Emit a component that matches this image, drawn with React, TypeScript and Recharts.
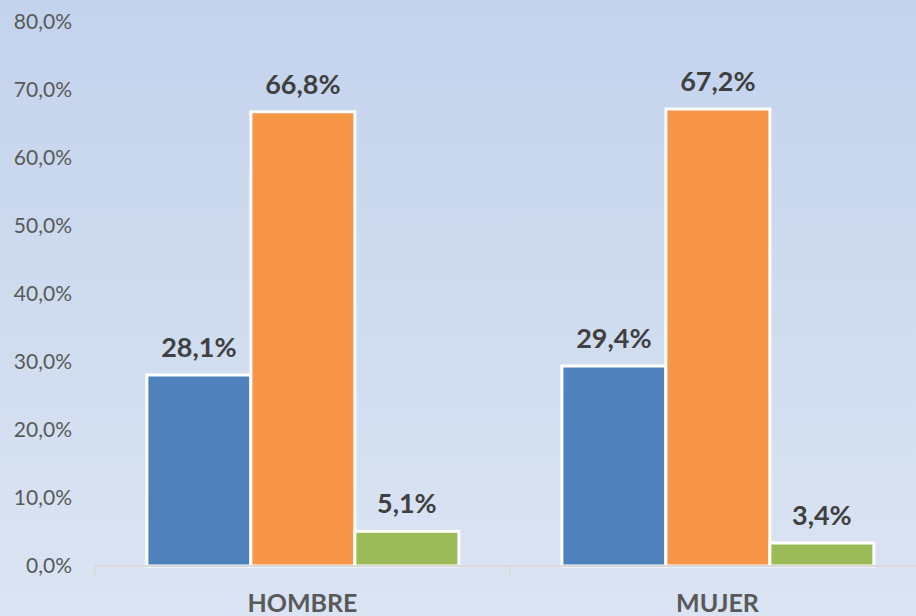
import React from "react";
import { BarChart, Bar, XAxis, YAxis, LabelList } from "recharts";

const categories = ["HOMBRE", "MUJER"];
const serie1 = [28.1, 29.4];
const serie2 = [66.8, 67.2];
const serie3 = [5.1, 3.4];
const yTicks = [0, 10, 20, 30, 40, 50, 60, 70, 80];

const data = categories.map((c, i) => ({ name: c, s1: serie1[i], s2: serie2[i], s3: serie3[i] }));

const FONT = "Lato, 'Open Sans', sans-serif";
const fmt = (v: number) => v.toFixed(1).replace(".", ",") + "%";
const labelStyle = { fontFamily: FONT, fontWeight: 700, fontSize: 27, fill: "#404040" };

const XTick = (props: any) => {
  const { x, y, payload } = props;
  const off = payload && payload.offset ? payload.offset : 0;
  return (
    <g>
      <line x1={x - off} y1={y - 8} x2={x - off} y2={y + 1} stroke="#d9d9d9" strokeWidth={1.5} />
      <line x1={x + off} y1={y - 8} x2={x + off} y2={y + 1} stroke="#d9d9d9" strokeWidth={1.5} />
      <text x={x} y={y + 38} textAnchor="middle" fontFamily={FONT} fontWeight={700} fontSize={25} fill="#595959">
        {payload.value}
      </text>
    </g>
  );
};

export default function App() {
  return (
    <div
      style={{
        position: "fixed",
        left: 0,
        top: 0,
        width: 916,
        height: 616,
        overflow: "hidden",
        background: "linear-gradient(180deg, #c3d3ed 0%, #cfdcef 50%, #dbe4f3 100%)",
      }}
    >
      <BarChart
        width={930}
        height={616}
        data={data}
        margin={{ top: 22, right: 5, bottom: 0, left: 0 }}
        barCategoryGap="12.5%"
        barGap={0}
      >
        <YAxis
          width={95}
          domain={[0, 80]}
          ticks={yTicks}
          tickFormatter={fmt}
          axisLine={false}
          tickLine={false}
          tickSize={0}
          tickMargin={23}
          tick={{ fontFamily: FONT, fontSize: 21, fill: "#595959" }}
        />
        <XAxis
          dataKey="name"
          height={50}
          axisLine={{ stroke: "#d9d9d9", strokeWidth: 2 }}
          tickLine={false}
          tick={<XTick />}
        />
        <Bar dataKey="s1" fill="#4f81bd" stroke="#ffffff" strokeWidth={3} isAnimationActive={false}>
          <LabelList dataKey="s1" position="top" offset={18} formatter={fmt} style={labelStyle} />
        </Bar>
        <Bar dataKey="s2" fill="#f79646" stroke="#ffffff" strokeWidth={3} isAnimationActive={false}>
          <LabelList dataKey="s2" position="top" offset={18} formatter={fmt} style={labelStyle} />
        </Bar>
        <Bar dataKey="s3" fill="#9bbb59" stroke="#ffffff" strokeWidth={3} isAnimationActive={false}>
          <LabelList dataKey="s3" position="top" offset={18} formatter={fmt} style={labelStyle} />
        </Bar>
      </BarChart>
    </div>
  );
}
